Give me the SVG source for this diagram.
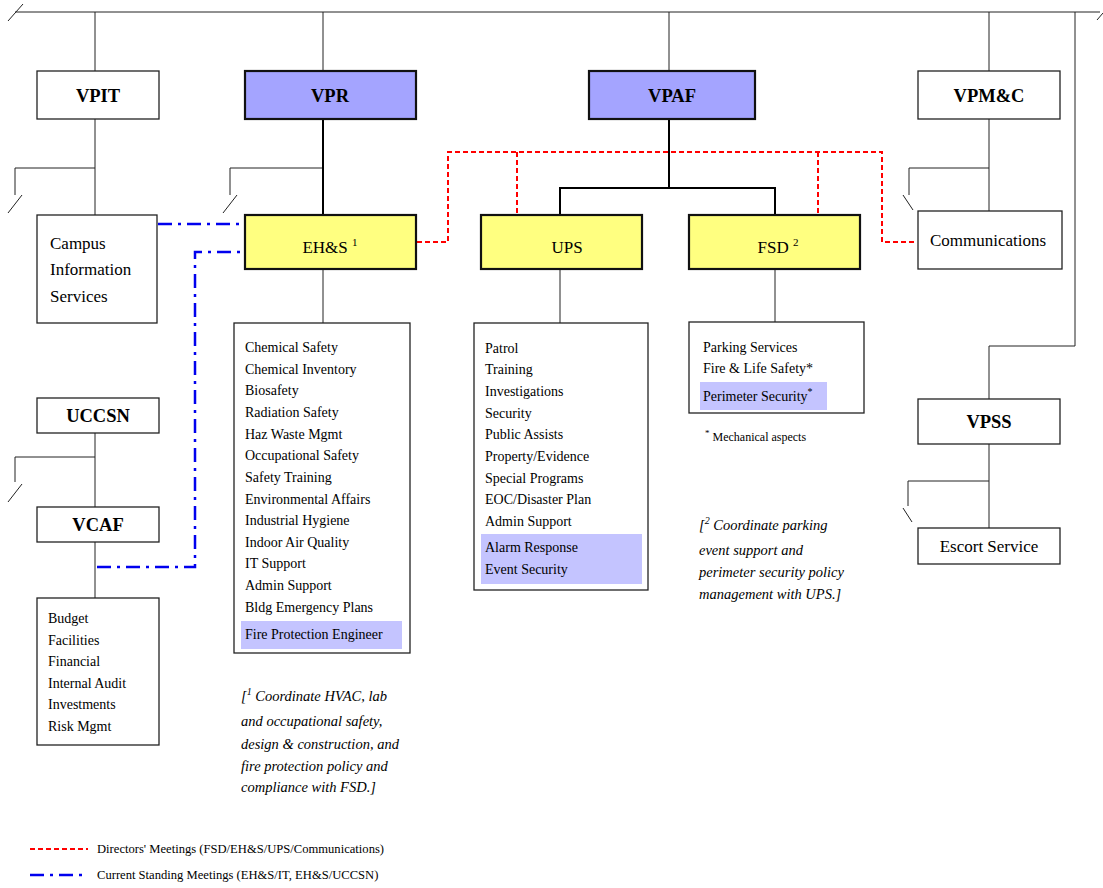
<svg xmlns="http://www.w3.org/2000/svg" width="1103" height="888" viewBox="0 0 1103 888">
<style>
text{font-family:"Liberation Serif","Times New Roman",serif;fill:#000}
.b{font-weight:bold;font-size:18.5px;text-anchor:middle}
.n{font-size:17px}
.c{text-anchor:middle}
.li{font-size:14px}
.it{font-size:14.5px;font-style:italic}
.lg{font-size:12.6px}
.box{fill:#fff;stroke:#222;stroke-width:1.3}
.vp{fill:#a4a4ff;stroke:#111;stroke-width:2.2}
.yl{fill:#ffff80;stroke:#111;stroke-width:2.2}
.hl{fill:#c4c4ff}
.ln{stroke:#222;stroke-width:1;fill:none}
.tk{stroke:#000;stroke-width:2;fill:none}
.red{stroke:#ff0000;stroke-width:2;stroke-dasharray:5 3;fill:none}
.blue{stroke:#0000ee;stroke-width:2.5;stroke-dasharray:14 6 3 6;fill:none}
</style>
<rect width="1103" height="888" fill="#fff"/>
<g id="connectors">
<path class="ln" d="M15 12H1100M8 21L23 4M1097 20L1103 13"/>
<path class="ln" d="M95 12V71M95 119V215M95 168H15V195M22 195L8 213"/>
<path class="ln" d="M323 12V71M323 168H230V195M237 195L223 213M323 269V323"/>
<path class="tk" d="M323 119V215"/>
<path class="ln" d="M669 12V71"/>
<path class="tk" d="M669 119V188M560 215V188H775V215"/>
<path class="ln" d="M560 269V323M775 269V322"/>
<path class="ln" d="M989 12V71M989 119V211M989 168H909V195M903 195L913 210"/>
<path class="ln" d="M1075 12V346H989V399M989 444V528M989 481H908V506M903 508L912 522"/>
<path class="ln" d="M95 433V507M95 457H15V482M22 484L8 502M95 542V598"/>
<path class="red" d="M417 242H448V152H882V242H917"/>
<path class="red" d="M517 152V215M818 152V215"/>
<path class="blue" d="M158 224H245"/>
<path class="blue" d="M97 567H195V252H245"/>
</g>
<g id="VPIT"><rect class="box" x="37" y="71" width="122" height="48"/><text class="b" x="98" y="102">VPIT</text></g>
<g id="VPR"><rect class="vp" x="245" y="71" width="171" height="48"/><text class="b" x="330" y="102">VPR</text></g>
<g id="VPAF"><rect class="vp" x="589" y="71" width="166" height="48"/><text class="b" x="672" y="102">VPAF</text></g>
<g id="VPMC"><rect class="box" x="918" y="71" width="142" height="48"/><text class="b" x="989" y="102">VPM&amp;C</text></g>
<g id="CIS"><rect class="box" x="37" y="215" width="120" height="108"/>
<text class="n" x="50" y="249">Campus</text><text class="n" x="50" y="275">Information</text><text class="n" x="50" y="302">Services</text></g>
<g id="EHS"><rect class="yl" x="245" y="215" width="171" height="54"/><text class="n c" x="330" y="253">EH&amp;S <tspan font-size="11" dy="-7">1</tspan></text></g>
<g id="UPS"><rect class="yl" x="481" y="215" width="161" height="54"/><text class="n c" x="567" y="253">UPS</text></g>
<g id="FSD"><rect class="yl" x="689" y="215" width="171" height="54"/><text class="n c" x="778" y="253">FSD <tspan font-size="11" dy="-7">2</tspan></text></g>
<g id="COMM"><rect class="box" x="918" y="211" width="144" height="58"/><text class="n" x="930" y="246">Communications</text></g>
<g id="EHSlist"><rect class="box" x="234" y="323" width="176" height="330"/>
<rect class="hl" x="241" y="621" width="161" height="28"/>
<text class="li" x="245" y="352">Chemical Safety</text>
<text class="li" x="245" y="374">Chemical Inventory</text>
<text class="li" x="245" y="395">Biosafety</text>
<text class="li" x="245" y="417">Radiation Safety</text>
<text class="li" x="245" y="439">Haz Waste Mgmt</text>
<text class="li" x="245" y="460">Occupational Safety</text>
<text class="li" x="245" y="482">Safety Training</text>
<text class="li" x="245" y="504">Environmental Affairs</text>
<text class="li" x="245" y="525">Industrial Hygiene</text>
<text class="li" x="245" y="547">Indoor Air Quality</text>
<text class="li" x="245" y="568">IT Support</text>
<text class="li" x="245" y="590">Admin Support</text>
<text class="li" x="245" y="612">Bldg Emergency Plans</text>
<text class="li" x="245" y="639">Fire Protection Engineer</text></g>
<g id="UPSlist"><rect class="box" x="474" y="323" width="174" height="267"/>
<rect class="hl" x="481" y="534" width="161" height="50"/>
<text class="li" x="485" y="353">Patrol</text>
<text class="li" x="485" y="374">Training</text>
<text class="li" x="485" y="396">Investigations</text>
<text class="li" x="485" y="418">Security</text>
<text class="li" x="485" y="439">Public Assists</text>
<text class="li" x="485" y="461">Property/Evidence</text>
<text class="li" x="485" y="483">Special Programs</text>
<text class="li" x="485" y="504">EOC/Disaster Plan</text>
<text class="li" x="485" y="526">Admin Support</text>
<text class="li" x="485" y="552">Alarm Response</text>
<text class="li" x="485" y="574">Event Security</text></g>
<g id="FSDlist"><rect class="box" x="689" y="322" width="175" height="91"/>
<rect class="hl" x="700" y="382" width="127" height="28"/>
<text class="li" x="703" y="352">Parking Services</text>
<text class="li" x="703" y="373">Fire &amp; Life Safety*</text>
<text class="li" x="703" y="401">Perimeter Security<tspan font-size="10" dy="-6">*</tspan></text></g>
<g id="FSDnote"><text font-size="12" x="705" y="441"><tspan font-size="9" dy="-5">*</tspan><tspan dy="5"> Mechanical aspects</tspan></text></g>
<g id="VPSS"><rect class="box" x="918" y="399" width="142" height="45"/><text class="b" x="989" y="428">VPSS</text></g>
<g id="Escort"><rect class="box" x="918" y="528" width="142" height="36"/><text class="n c" x="989" y="552">Escort Service</text></g>
<g id="UCCSN"><rect class="box" x="37" y="398" width="122" height="35"/><text class="b" x="98" y="422">UCCSN</text></g>
<g id="VCAF"><rect class="box" x="37" y="507" width="122" height="35"/><text class="b" x="98" y="531">VCAF</text></g>
<g id="VCAFlist"><rect class="box" x="37" y="598" width="122" height="147"/>
<text class="li" x="48" y="623">Budget</text>
<text class="li" x="48" y="645">Facilities</text>
<text class="li" x="48" y="666">Financial</text>
<text class="li" x="48" y="688">Internal Audit</text>
<text class="li" x="48" y="709">Investments</text>
<text class="li" x="48" y="731">Risk Mgmt</text></g>
<g id="note1">
<text class="it" x="241" y="701">[<tspan font-size="10" dy="-6">1</tspan><tspan dy="6"> Coordinate HVAC, lab</tspan></text>
<text class="it" x="241" y="726">and occupational safety,</text>
<text class="it" x="241" y="749">design &amp; construction, and</text>
<text class="it" x="241" y="771">fire protection policy and</text>
<text class="it" x="241" y="792">compliance with FSD.]</text></g>
<g id="note2">
<text class="it" x="699" y="530">[<tspan font-size="10" dy="-6">2</tspan><tspan dy="6"> Coordinate parking</tspan></text>
<text class="it" x="699" y="555">event support and</text>
<text class="it" x="699" y="577">perimeter security policy</text>
<text class="it" x="699" y="599">management with UPS.]</text></g>
<g id="legend">
<path class="red" d="M30 849H88"/>
<path class="blue" d="M30 875H82" stroke-dasharray="16 8 3 8"/>
<text class="lg" x="97" y="853">Directors' Meetings (FSD/EH&amp;S/UPS/Communications)</text>
<text class="lg" x="97" y="879">Current Standing Meetings (EH&amp;S/IT, EH&amp;S/UCCSN)</text></g>
</svg>
